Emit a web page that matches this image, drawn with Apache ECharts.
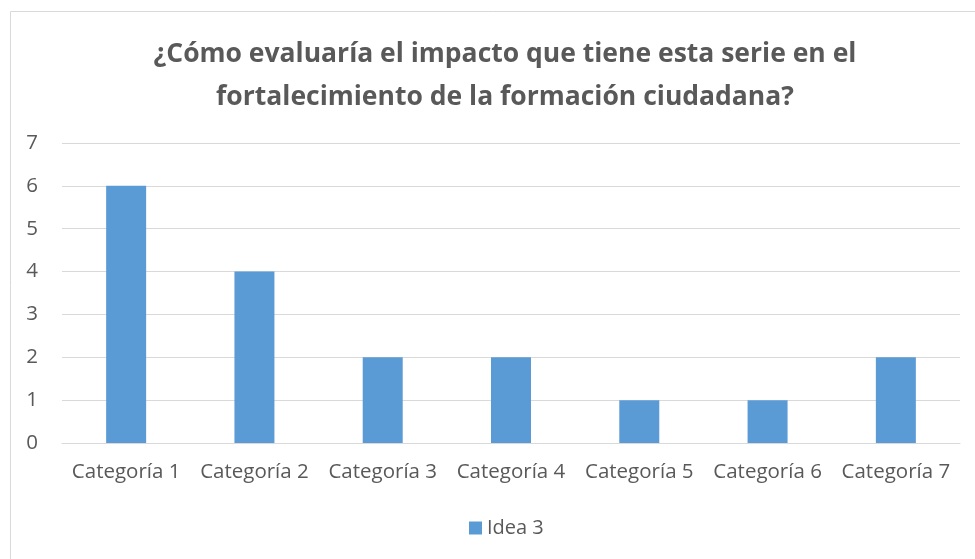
<!DOCTYPE html>
<html><head><meta charset="utf-8">
<script src="https://cdn.jsdelivr.net/npm/echarts@6/dist/echarts.min.js"></script>
<style>html,body{margin:0;padding:0;background:#fff}#c{width:975px;height:559px}</style>
</head><body><div id="c"></div>
<script>
const titleText = "¿Cómo evaluaría el impacto que tiene esta serie en el\nfortalecimiento de la formación ciudadana?";
const categories = ["Categoría 1","Categoría 2","Categoría 3","Categoría 4","Categoría 5","Categoría 6","Categoría 7"];
const seriesName = "Idea 3";
const values = [6,4,2,2,1,1,2];
const yTicks = {min:0, max:7, interval:1};

const chart = echarts.init(document.getElementById('c'), null, {renderer:'canvas'});
const font = "'Open Sans', 'Noto Sans', sans-serif";
chart.setOption({
  animation:false,
  backgroundColor:'#fff',
  graphic:[{type:'rect', shape:{x:10.5,y:11.5,width:980,height:560}, style:{fill:'none', stroke:'#d9d9d9', lineWidth:1}, silent:true}],
  title:{text:titleText, left:500, textAlign:'center', top:28, textStyle:{fontFamily:font, fontWeight:'bold', fontSize:26.5, color:'#595959', lineHeight:43}},
  grid:{left:62, right:15, top:143, bottom:116},
  legend:{bottom:16, left:464, itemWidth:13, itemHeight:13, itemGap:10, icon:'rect', textStyle:{fontFamily:font, fontSize:20, color:'#595959'}, data:[seriesName]},
  xAxis:{type:'category', data:categories, axisLine:{lineStyle:{color:'#d9d9d9'}}, axisTick:{show:false},
    axisLabel:{fontFamily:font, fontSize:20.5, color:'#595959', margin:19, interval:0}},
  yAxis:{type:'value', min:yTicks.min, max:yTicks.max, interval:yTicks.interval, axisLine:{show:false}, axisTick:{show:false},
    axisLabel:{fontFamily:font, fontSize:20.5, color:'#595959', margin:24}, splitLine:{lineStyle:{color:'#d9d9d9'}}},
  series:[{name:seriesName, type:'bar', data:values, barWidth:40, itemStyle:{color:'#5B9BD5'}}]
});
</script></body></html>
